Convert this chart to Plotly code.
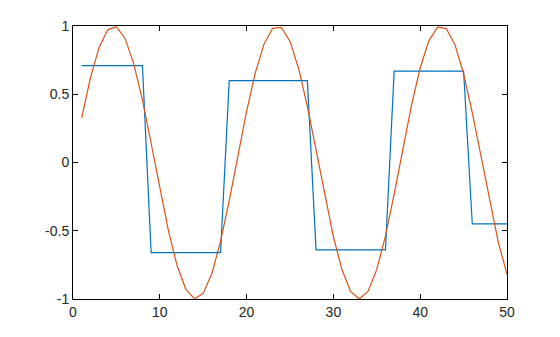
import plotly.graph_objects as go

x = list(range(1, 51))
signal = [0.327, 0.618, 0.841, 0.972, 0.995, 0.909, 0.723, 0.457, 0.141, -0.190,
          -0.501, -0.757, -0.929, -0.999, -0.959, -0.813, -0.578, -0.279, 0.050, 0.374,
          0.657, 0.867, 0.983, 0.989, 0.887, 0.687, 0.412, 0.091, -0.240, -0.544,
          -0.788, -0.946, -1.000, -0.943, -0.783, -0.537, -0.231, 0.100, 0.420, 0.694,
          0.891, 0.991, 0.981, 0.863, 0.650, 0.366, 0.041, -0.288, -0.585, -0.818]
step = [0.71] * 8 + [-0.66] * 9 + [0.60] * 10 + [-0.64] * 9 + [0.67] * 9 + [-0.45] * 5

xticks = [0, 10, 20, 30, 40, 50]
yticks = [-1, -0.5, 0, 0.5, 1]
ytick_labels = ["-1", "-0.5", "0", "0.5", "1"]

fig = go.Figure()
fig.add_trace(go.Scatter(x=x, y=step, mode="lines",
                         line=dict(color="#0072BD", width=1.2)))
fig.add_trace(go.Scatter(x=x, y=signal, mode="lines",
                         line=dict(color="#D95319", width=1.2)))

axis_common = dict(showline=True, linecolor="black", linewidth=1, mirror="ticks",
                   ticks="inside", ticklen=5, tickcolor="black", showgrid=False,
                   zeroline=False,
                   tickfont=dict(family="Liberation Sans, Arial", size=14, color="#262626"))

fig.update_layout(
    width=560, height=337,
    margin=dict(l=73, r=53, t=26, b=38),
    paper_bgcolor="white", plot_bgcolor="white",
    showlegend=False,
    xaxis=dict(range=[0, 50], tickvals=xticks, **axis_common),
    yaxis=dict(range=[-1, 1], tickvals=yticks, ticktext=ytick_labels, **axis_common),
)

fig.write_html("out.html")
